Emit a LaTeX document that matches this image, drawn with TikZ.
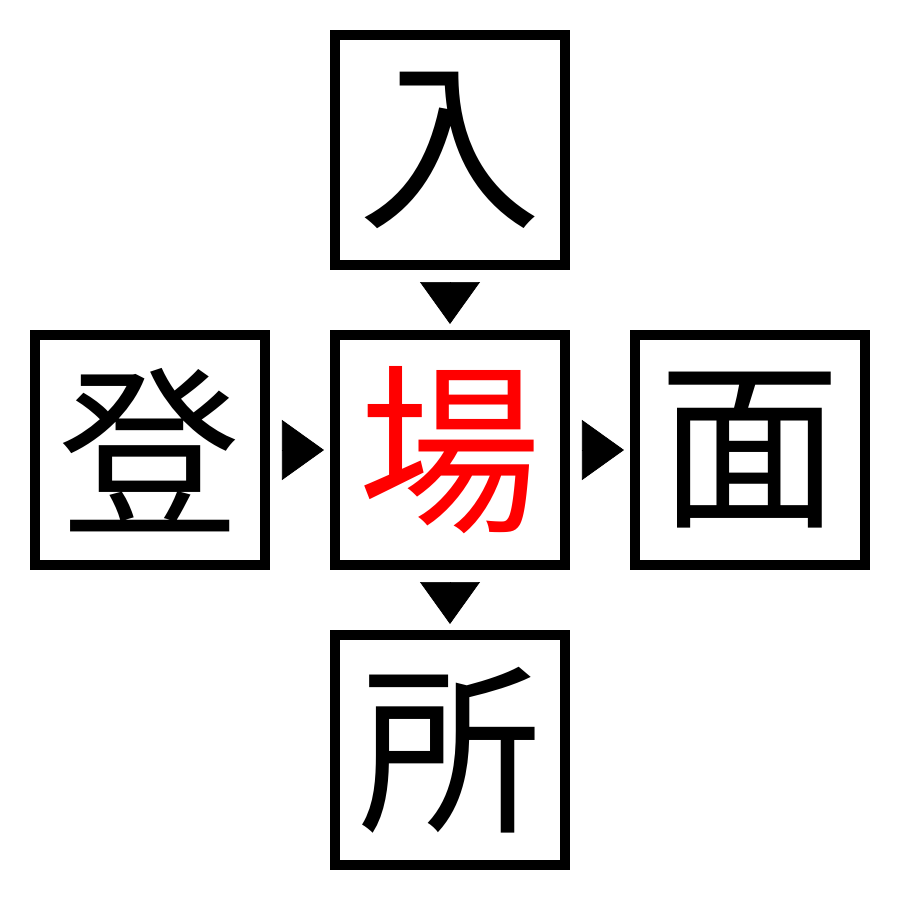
\documentclass[tikz,border=0pt]{standalone}
\usepackage{fontspec}
\usepackage{tikz}
\usetikzlibrary{positioning,arrows.meta}
\newfontfamily\cjk{Noto Sans CJK JP}

\begin{document}
\begin{tikzpicture}[
	kanji/.style={draw, line width=1mm, minimum size=2.3cm, inner sep=0pt, font=\cjk\fontsize{52}{52}\selectfont},
	pointer/.style={-{Triangle[length=4.2mm,width=6mm]}, line width=0.2pt, shorten <=1.2mm, shorten >=0.6mm}
	]
			\useasboundingbox (-4.5,-4.5) rectangle (4.5,4.5);
			\node [kanji, text=red] (ba) at (0,0) {場};
			\node [kanji, above=0.6cm of ba] (iri) {入};
			\node [kanji, below=0.6cm of ba] (tokoro) {所};
			\node [kanji, left=0.6cm of ba] (tou) {登};
			\node [kanji, right=0.6cm of ba] (men) {面};
			\draw [pointer] (iri) -- (ba);
			\draw [pointer] (ba) -- (tokoro);
			\draw [pointer] (tou) -- (ba);
			\draw [pointer] (ba) -- (men);
		\end{tikzpicture}
\end{document}
